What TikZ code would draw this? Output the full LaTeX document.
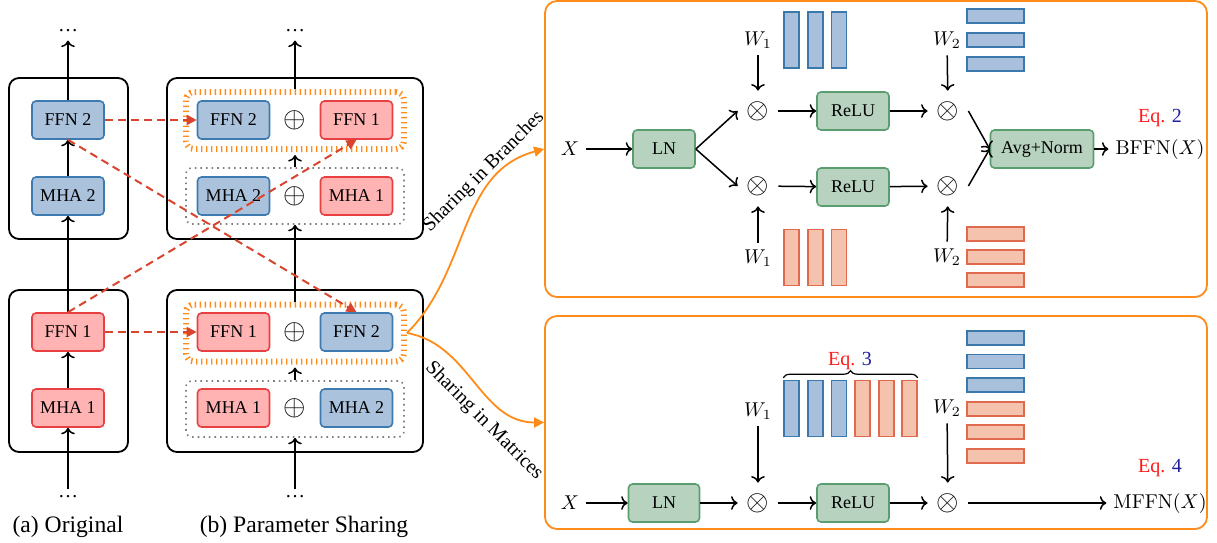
\documentclass[tikz,border=0pt]{standalone}
\usepackage[no-math]{fontspec}
\setmainfont{Liberation Serif}
\usetikzlibrary{arrows.meta,decorations.pathreplacing}
\definecolor{bfill}{HTML}{ABC2DC}
\definecolor{bdraw}{HTML}{3D7AB0}
\definecolor{rfill}{HTML}{FFB3B3}
\definecolor{rdraw}{HTML}{E84040}
\definecolor{gfill}{HTML}{B7D3BF}
\definecolor{gdraw}{HTML}{5A9E6F}
\definecolor{bbar}{HTML}{3B79AD}
\definecolor{bbarfill}{HTML}{A9C0DC}
\definecolor{rbar}{HTML}{E06A4E}
\definecolor{rbarfill}{HTML}{F5C2AD}
\definecolor{orange1}{HTML}{FF8C1A}
\definecolor{dred}{HTML}{D9442E}
\definecolor{eqred}{HTML}{FF1A1A}
\definecolor{eqblue}{HTML}{1F1F9E}
\begin{document}
\begin{tikzpicture}[x=0.5pt,y=-0.5pt,
  mod/.style={draw, rounded corners=2pt, line width=0.8pt, minimum width=36pt, minimum height=19pt, inner sep=0pt, font=\fontsize{9}{11}\selectfont},
  bmod/.style={mod, draw=bdraw, fill=bfill},
  rmod/.style={mod, draw=rdraw, fill=rfill},
  gmod/.style={mod, draw=gdraw, fill=gfill},
  layer/.style={draw, line width=0.9pt, rounded corners=5pt},
  oframe/.style={draw=orange1, line width=3pt, dash pattern=on 0.7pt off 1.8pt, rounded corners=4pt, minimum width=109pt, minimum height=28.5pt, inner sep=0pt},
  gframe/.style={draw=gray, line width=0.8pt, dotted, rounded corners=3pt, minimum width=109pt, minimum height=28pt, inner sep=0pt},
  arr/.style={->, line width=0.75pt},
  rdash/.style={draw=dred, line width=1pt, dash pattern=on 4pt off 2.5pt, -{Triangle[length=5pt,width=5pt]}},
  dotsn/.style={inner sep=1pt, font=\fontsize{10}{12}\selectfont},
  plus/.style={inner sep=0pt, font=\fontsize{13.5}{14}\selectfont},
  mul/.style={circle, minimum size=20pt, inner sep=0pt, font=\fontsize{13.5}{14}\selectfont},
  panel/.style={draw=orange1, line width=0.9pt, rounded corners=6pt, minimum width=331pt, inner sep=0pt},
  vb/.style={draw=bbar, fill=bbarfill, line width=0.8pt, minimum width=7.5pt, minimum height=28pt, inner sep=0pt},
  vr/.style={vb, draw=rbar, fill=rbarfill},
  hb/.style={draw=bbar, fill=bbarfill, line width=0.8pt, minimum width=28.5pt, minimum height=7pt, inner sep=0pt},
  hr/.style={hb, draw=rbar, fill=rbarfill},
  oarr/.style={draw=orange1, line width=0.9pt, -{Triangle[length=5pt,width=5pt]}},
  eqtxt/.style={font=\fontsize{10}{12}\selectfont},
  captxt/.style={font=\fontsize{11.8}{14}\selectfont},
  lbl/.style={font=\fontsize{10}{12}\selectfont}
]
\useasboundingbox (0,0) rectangle (1217,542);

% ---------- (a) Original ----------
\draw[layer] (9,78) rectangle (128,239);
\draw[layer] (9,290) rectangle (128,452);
\node[bmod] (aF2) at (68,120) {FFN 2};
\node[bmod] (aM2) at (68,196) {MHA 2};
\node[rmod] (aF1) at (68,332) {FFN 1};
\node[rmod] (aM1) at (68,408) {MHA 1};
\node[dotsn] (atop) at (68,31) {\dots};
\node[dotsn] (abot) at (68,497) {\dots};
\draw[arr, shorten <=2pt] (abot) -- (aM1);
\draw[arr] (aM1) -- (aF1);
\draw[arr] (aF1) -- (aM2);
\draw[arr] (aM2) -- (aF2);
\draw[arr, shorten >=3pt] (aF2) -- (atop);
\node[captxt] (capa) at (68,527) {(a) Original};

% ---------- (b) Parameter Sharing ----------
\draw[layer] (167,78) rectangle (423,239);
\draw[layer] (167,290) rectangle (423,452);
\node[oframe] (bOF) at (295,120.5) {};
\node[gframe] (bGF) at (295,196) {};
\node[bmod] (bF2) at (233.5,120) {FFN 2};
\node[plus] (bP1) at (295,120) {$\oplus$};
\node[rmod] (bF1) at (356.5,120) {FFN 1};
\node[bmod] (bM2) at (233.5,196) {MHA 2};
\node[plus] (bP2) at (295,196) {$\oplus$};
\node[rmod] (bM1) at (356.5,196) {MHA 1};

\node[oframe] (cOF) at (295,333) {};
\node[gframe] (cGF) at (295,409) {};
\node[rmod] (cF1) at (233.5,332) {FFN 1};
\node[plus] (cP1) at (295,332) {$\oplus$};
\node[bmod] (cF2) at (356.5,332) {FFN 2};
\node[rmod] (cM1) at (233.5,408) {MHA 1};
\node[plus] (cP2) at (295,408) {$\oplus$};
\node[bmod] (cM2) at (356.5,408) {MHA 2};

\node[dotsn] (btop) at (295,31) {\dots};
\node[dotsn] (bbot) at (295,497) {\dots};
\draw[arr, shorten <=2pt] (bbot) -- (cGF);
\draw[arr, shorten >=1.5pt] (cGF) -- (cOF);
\draw[arr] (cOF) -- (bGF);
\draw[arr, shorten >=1.5pt] (bGF) -- (bOF);
\draw[arr, shorten >=3pt] (bOF) -- (btop);
\node[captxt] (capb) at (304,527) {(b) Parameter Sharing};

% red dashed sharing arrows
\draw[rdash] (aF2.east) -- (bF2.west);
\draw[rdash] (aF2.south) -- (cF2.north);
\draw[rdash] (aF1.north) -- (bF1.south);
\draw[rdash] (aF1.east) -- (cF1.west);

% ---------- Right panels ----------
\node[panel, minimum height=148pt] (P1) at (876,149) {};
\node[panel, minimum height=106.5pt] (P2) at (876,422.5) {};

\draw[oarr] (cOF.east) to[out=45, in=195] (P1.west);
\draw[oarr] (cOF.east) to[out=-10, in=180] (P2.west);
\node[lbl, rotate=45] (lb1) at (484,172) {Sharing in Branches};
\node[lbl, rotate=-45] (lb2) at (484,421) {Sharing in Matrices};

% panel 1
\node (X1) at (570,149) {$X$};
\node[gmod, minimum width=31pt] (LN1) at (664,149) {LN};
\node[mul] (m1a) at (758,111) {$\otimes$};
\node[mul] (m1b) at (758,186) {$\otimes$};
\node (W1a) at (758,40) {$W_1$};
\node (W1b) at (758,258) {$W_1$};
\node[gmod] (R1a) at (853,111) {ReLU};
\node[gmod] (R1b) at (853,187) {ReLU};
\node[mul] (m2a) at (948,111) {$\otimes$};
\node[mul] (m2b) at (948,186) {$\otimes$};
\node (W2a) at (947,40) {$W_2$};
\node (W2b) at (947,257) {$W_2$};
\node[gmod, minimum width=51.5pt] (AN) at (1042,149) {Avg+Norm};
\node (BF) at (1160,149) {$\mathrm{BFFN}(X)$};
\node[eqtxt] (eq2) at (1160,118) {\textcolor{eqred}{Eq.} \textcolor{eqblue}{2}};

\node[vb] (ub1) at (791.5,40) {};
\node[vb] (ub2) at (815.5,40) {};
\node[vb] (ub3) at (839,40) {};
\node[vr] (lr1) at (791.5,257.5) {};
\node[vr] (lr2) at (815.5,257.5) {};
\node[vr] (lr3) at (839,257.5) {};
\node[hb] (uh1) at (995.5,16) {};
\node[hb] (uh2) at (995.5,40) {};
\node[hb] (uh3) at (995.5,64) {};
\node[hr] (lh1) at (995.5,234) {};
\node[hr] (lh2) at (995.5,257) {};
\node[hr] (lh3) at (995.5,280) {};

\draw[arr] (X1) -- (LN1);
\draw[arr] (LN1.east) -- (m1a.west);
\draw[arr] (LN1.east) -- (m1b.west);
\draw[arr] (W1a) -- (m1a);
\draw[arr] (W1b) -- (m1b);
\draw[arr] (m1a) -- (R1a);
\draw[arr] (m1b) -- (R1b);
\draw[arr] (R1a) -- (m2a);
\draw[arr] (R1b) -- (m2b);
\draw[arr] (W2a) -- (m2a);
\draw[arr] (W2b) -- (m2b);
\draw[arr] (m2a.east) -- (AN.west);
\draw[arr] (m2b.east) -- (AN.west);
\draw[arr] (AN) -- (BF);

% panel 2
\node (X2) at (570,503) {$X$};
\node[gmod, minimum width=35.5pt] (LN2) at (664,503) {LN};
\node[mul] (m3) at (758,503) {$\otimes$};
\node (W1c) at (758,411) {$W_1$};
\node[gmod] (R2) at (853,503) {ReLU};
\node[mul] (m4) at (948,503) {$\otimes$};
\node (W2c) at (947,408) {$W_2$};
\node (MF) at (1160,503) {$\mathrm{MFFN}(X)$};
\node[eqtxt] (eq4) at (1160,468) {\textcolor{eqred}{Eq.} \textcolor{eqblue}{4}};

\node[vb] (mb1) at (791.5,408.5) {};
\node[vb] (mb2) at (815.5,408.5) {};
\node[vb] (mb3) at (839,408.5) {};
\node[vr] (mr1) at (862.5,408.5) {};
\node[vr] (mr2) at (886.5,408.5) {};
\node[vr] (mr3) at (909.5,408.5) {};
\path (mb1.north west) ++(0,-2) coordinate (brL);
\path (mr3.north east) ++(0,-2) coordinate (brR);
\draw[decorate, decoration={brace, amplitude=3.5pt}, line width=0.6pt] (brL) -- (brR);
\node[eqtxt] (eq3) at (850,361) {\textcolor{eqred}{Eq.} \textcolor{eqblue}{3}};

\node[hb] (mh1) at (995.5,338) {};
\node[hb] (mh2) at (995.5,361.5) {};
\node[hb] (mh3) at (995.5,385) {};
\node[hr] (mh4) at (995.5,409) {};
\node[hr] (mh5) at (995.5,432) {};
\node[hr] (mh6) at (995.5,456) {};

\draw[arr] (X2) -- (LN2);
\draw[arr] (LN2) -- (m3);
\draw[arr] (W1c) -- (m3);
\draw[arr] (m3) -- (R2);
\draw[arr] (R2) -- (m4);
\draw[arr] (W2c) -- (m4);
\draw[arr] (m4) -- (MF);
\end{tikzpicture}
\end{document}
